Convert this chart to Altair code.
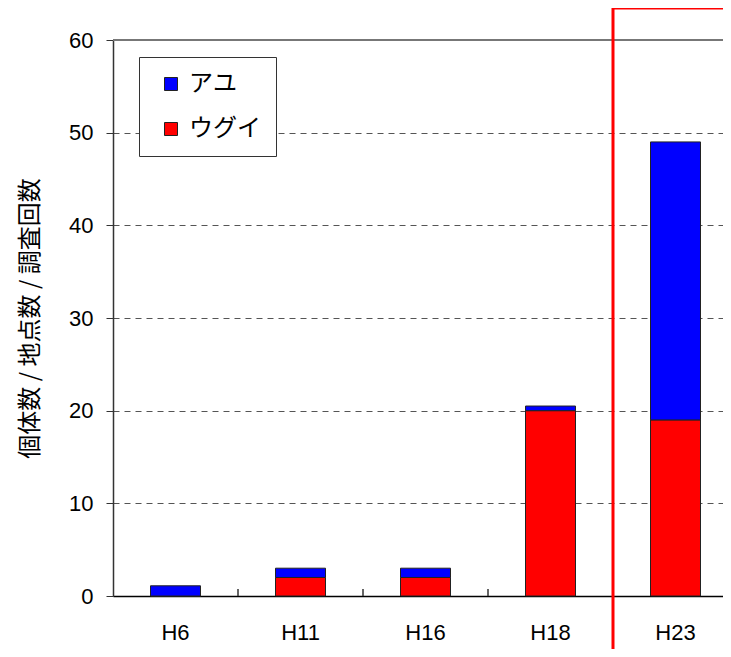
import altair as alt
import pandas as pd

years = ["H6", "H11", "H16", "H18", "H23"]
ugui = [0.0, 2.0, 2.0, 20.0, 19.0]
ayu = [1.1, 1.0, 1.0, 0.5, 30.0]
species = ["アユ", "ウグイ"]
colors = ["#0000ff", "#ff0000"]
# category boundary index positions (between bands)
boundary_pos = [1, 2, 3, 4]
highlight_start = 4  # H23 band starts at boundary 4

rows = []
for y, u, a in zip(years, ugui, ayu):
    rows.append({"year": y, "species": "ウグイ", "value": u, "order": 0})
    rows.append({"year": y, "species": "アユ", "value": a, "order": 1})
df = pd.DataFrame(rows)

font = "Liberation Sans"
jfont = "Noto Sans CJK JP"

full_w = 625
xscale = alt.Scale(domain=years, paddingInner=0.6, paddingOuter=0.3, range=[0, full_w])
yscale = alt.Scale(domain=[0, 60], nice=False)
qx = alt.Scale(domain=[0, len(years)], nice=False, zero=False, range=[0, full_w])

bars = alt.Chart(df).mark_bar(stroke="#222222", strokeWidth=1).encode(
    x=alt.X("year:N", sort=years, scale=xscale,
            axis=alt.Axis(title=None, labelAngle=0, ticks=False, labelFont=font,
                          labelFontSize=22, labelColor="black", labelPadding=26,
                          domainColor="black", domainWidth=1.5)),
    y=alt.Y("value:Q", stack="zero", scale=yscale,
            axis=alt.Axis(title="個体数 / 地点数 / 調査回数", titleFont=jfont,
                          titleFontSize=24, titleFontWeight="normal", titleColor="black",
                          titlePadding=26, values=[0, 10, 20, 30, 40, 50, 60],
                          labelFont=font, labelFontSize=22, labelColor="black",
                          labelPadding=13, tickSize=7, tickColor="#333333",
                          domainColor="#333333", domainWidth=1.5,
                          grid=True, gridDash=[6, 5], gridColor="#555555", gridWidth=1)),
    color=alt.Color("species:N", scale=alt.Scale(domain=species, range=colors),
                    legend=alt.Legend(title=None, orient="none", legendX=26, legendY=17,
                                      symbolType="square", symbolSize=169,
                                      symbolStrokeColor="#222222", symbolStrokeWidth=1,
                                      labelFont=jfont, labelFontSize=24, labelColor="black",
                                      rowPadding=21, padding=15,
                                      strokeColor="#333333", fillColor="white",
                                      symbolOffset=5, labelOffset=6)),
    order=alt.Order("order:Q"),
)

tick_df = pd.DataFrame({"pos": boundary_pos, "y0": [0] * 4, "y1": [0.75] * 4})
ticks = alt.Chart(tick_df).mark_rule(color="#333333", strokeWidth=1.5).encode(
    x=alt.X("pos:Q", scale=qx, axis=None),
    y=alt.Y("y0:Q", scale=yscale),
    y2="y1:Q",
)

top_df = pd.DataFrame({"v": [60]})
top = alt.Chart(top_df).mark_rule(color="#777777", strokeWidth=2).encode(
    y=alt.Y("v:Q", scale=yscale),
)

hl_df = pd.DataFrame({"pos": [highlight_start]})
highlight = alt.Chart(hl_df).mark_rect(fill=None, stroke="#ff0000", strokeWidth=3,
                                       clip=False).encode(
    x=alt.X("pos:Q", scale=qx, axis=None),
    x2=alt.value(800),
    y=alt.value(-32),
    y2=alt.value(700),
)

chart = alt.layer(top, bars, ticks, highlight).resolve_scale(x="independent").properties(
    width=610, height=556,
    autosize=alt.AutoSizeParams(type="none"),
    padding={"left": 105, "top": 32, "right": 0, "bottom": 53},
).configure_view(stroke=None).configure_axis(grid=False)

chart.save("out.html", embed_options={"renderer": "svg", "actions": False})
